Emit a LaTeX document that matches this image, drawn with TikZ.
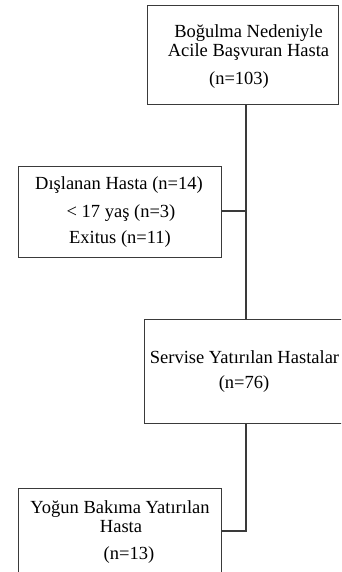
\documentclass[tikz,border=0pt]{standalone}
\usepackage{fontspec}
\setmainfont{Liberation Serif}
\definecolor{linegray}{HTML}{3A3A3A}
\begin{document}
\begin{tikzpicture}[x=1pt,y=-1pt,
  boxstyle/.style={draw=linegray,line width=1.4pt,rectangle,inner sep=0pt,anchor=north west},
  txt/.style={anchor=base,inner sep=0pt,font=\fontsize{18.5}{20}\selectfont},
  conn/.style={draw=linegray,line width=1.4pt}]
\useasboundingbox (0,0) rectangle (341,572);
\clip (0,0) rectangle (341,572);
\fill[white] (0,0) rectangle (341,572);
% boxes
\node[boxstyle,minimum width=191pt,minimum height=99pt] (b1) at (147,5) {};
\node[boxstyle,minimum width=203pt,minimum height=91pt] (b2) at (18,166) {};
\node[boxstyle,minimum width=210pt,minimum height=104pt] (b3) at (144,319) {};
\node[boxstyle,minimum width=203pt,minimum height=100pt] (b4) at (18,488) {};
% texts
\node[txt] (t11) at (248.5,38) {Boğulma Nedeniyle};
\node[txt] (t12) at (248.5,57) {Acile Başvuran Hasta};
\node[txt] (t13) at (239,85) {(n=103)};
\node[txt] (t21) at (119,189) {Dışlanan Hasta (n=14)};
\node[txt] (t22) at (121,217) {< 17 yaş (n=3)};
\node[txt] (t23) at (120,243) {Exitus (n=11)};
\node[txt] (t31) at (244.5,363) {Servise Yatırılan Hastalar};
\node[txt] (t32) at (244,388) {(n=76)};
\node[txt] (t41) at (120,513) {Yoğun Bakıma Yatırılan};
\node[txt] (t42) at (121,532) {Hasta};
\node[txt] (t43) at (129,559) {(n=13)};
% connectors
\coordinate (j1) at (246,211);
\coordinate (j2) at (246,531);
\draw[conn] (b1.south -| j1) -- (b3.north -| j1);
\draw[conn] (b2.east |- j1) -- (j1);
\draw[conn] (b3.south -| j2) -- (j2) -- (b4.east |- j2);
\end{tikzpicture}
\end{document}
